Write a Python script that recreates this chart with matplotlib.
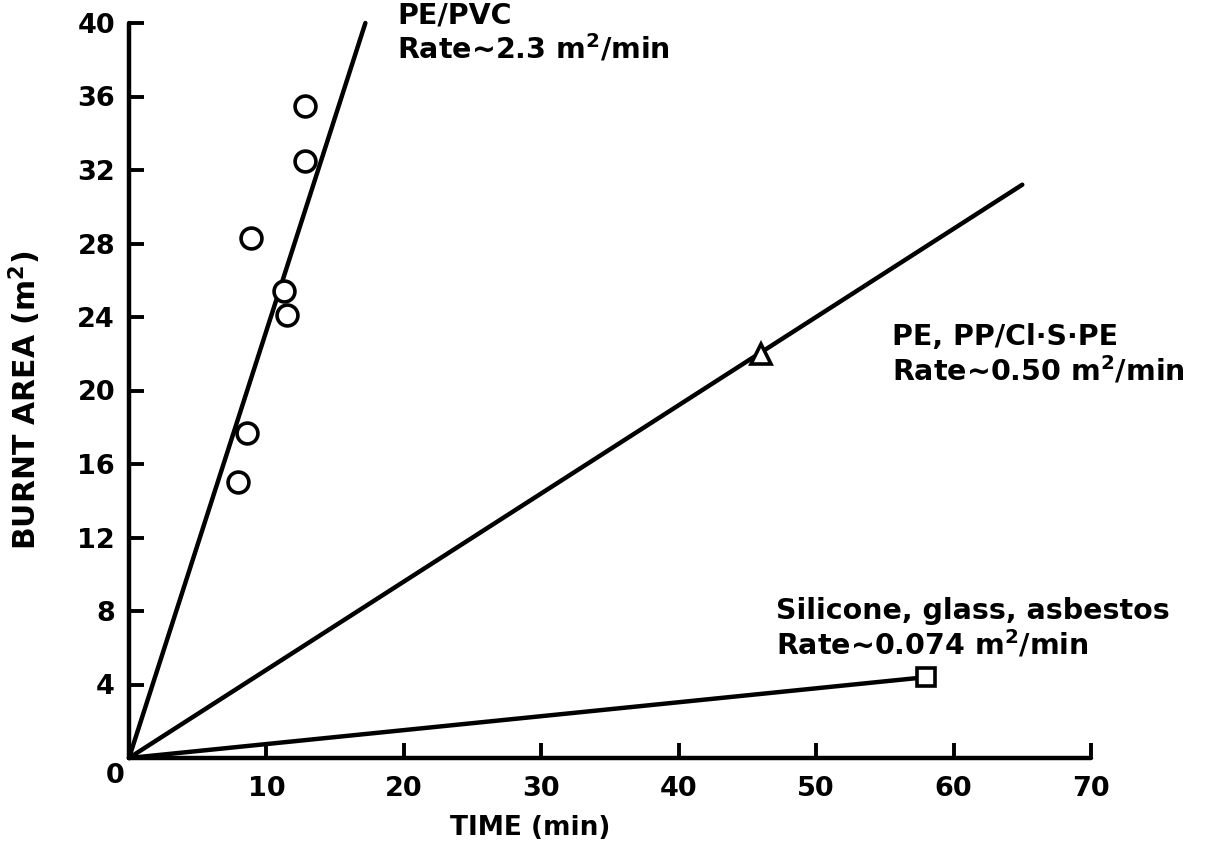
"""Burnt area vs. time for three cable insulation groups."""

import matplotlib
matplotlib.use("Agg")
import matplotlib.pyplot as plt

# ---------------------------------------------------------------------------
# Data
# ---------------------------------------------------------------------------
pvc_time = [7.9, 8.6, 8.9, 11.3, 11.5, 12.8, 12.8]
pvc_area = [15.0, 17.7, 28.3, 25.4, 24.1, 32.5, 35.5]
pvc_fit_time = [0, 17.2]
pvc_fit_area = [0, 40.0]

pp_time = [46.0]
pp_area = [22.0]
pp_fit_time = [0, 65.0]
pp_fit_area = [0, 31.2]

sil_time = [58.0]
sil_area = [4.4]
sil_fit_time = [0, 58.0]
sil_fit_area = [0, 4.4]

x_ticks = [10, 20, 30, 40, 50, 60, 70]
y_ticks = [4, 8, 12, 16, 20, 24, 28, 32, 36, 40]

SQ = r"m$^{\mathbf{2}}$"

plt.rcParams["font.family"] = ["DejaVu Sans"]
plt.rcParams["font.weight"] = "bold"
plt.rcParams["mathtext.fontset"] = "dejavusans"

fig = plt.figure(figsize=(12.18, 8.49), dpi=100)
ax = fig.add_axes([129 / 1218, 91 / 849, 962 / 1218, 735 / 849])

lw = 3.2
ax.plot(pvc_fit_time, pvc_fit_area, color="black", lw=lw, solid_capstyle="round", clip_on=False)
ax.plot(pp_fit_time, pp_fit_area, color="black", lw=lw, solid_capstyle="round", clip_on=False)
ax.plot(sil_fit_time, sil_fit_area, color="black", lw=lw, solid_capstyle="round", clip_on=False)

ax.plot(pvc_time, pvc_area, "o", ms=15, mfc="white", mec="black", mew=2.6, clip_on=False)
ax.plot(pp_time, pp_area, "^", ms=14, mfc="white", mec="black", mew=2.6, clip_on=False)
ax.plot(sil_time, sil_area, "s", ms=13, mfc="white", mec="black", mew=2.6, clip_on=False)

ax.set_xlim(0, 70)
ax.set_ylim(0, 40)
for side in ("top", "right"):
    ax.spines[side].set_visible(False)
for side in ("left", "bottom"):
    ax.spines[side].set_linewidth(3.2)
    ax.spines[side].set_capstyle("round")

ax.set_xticks(x_ticks)
ax.set_yticks(y_ticks)
ax.tick_params(direction="in", length=11, width=2.8, labelsize=19.5, pad=10)
ax.tick_params(axis="x", pad=13)

# shared origin label
ax.text(-0.35, -1.0, "0", ha="right", va="center", fontsize=19.5, fontweight="bold", clip_on=False)

ax.set_xlabel("TIME (min)", fontsize=19, fontweight="bold")
ax.xaxis.set_label_coords((530 - 129) / 962, -0.077)
ax.set_ylabel("BURNT AREA (" + SQ + ")", fontsize=21.5, fontweight="bold")
ax.yaxis.label.set_verticalalignment("center")
ax.yaxis.set_label_coords((25 - 129) / 962, (758 - 400) / 735)

txt = dict(fontsize=20.5, fontweight="bold", ha="left", va="center", clip_on=False)
ax.text(19.5, 40.4, "PE/PVC", **txt)
ax.text(19.5, 38.6, "Rate~2.3 " + SQ + "/min", **txt)
ax.text(55.5, 22.9, "PE, PP/Cl·S·PE", **txt)
ax.text(55.5, 21.1, "Rate~0.50 " + SQ + "/min", **txt)
ax.text(47.1, 8.0, "Silicone, glass, asbestos", **txt)
ax.text(47.1, 6.2, "Rate~0.074 " + SQ + "/min", **txt)

fig.savefig("out.png", dpi=100)
